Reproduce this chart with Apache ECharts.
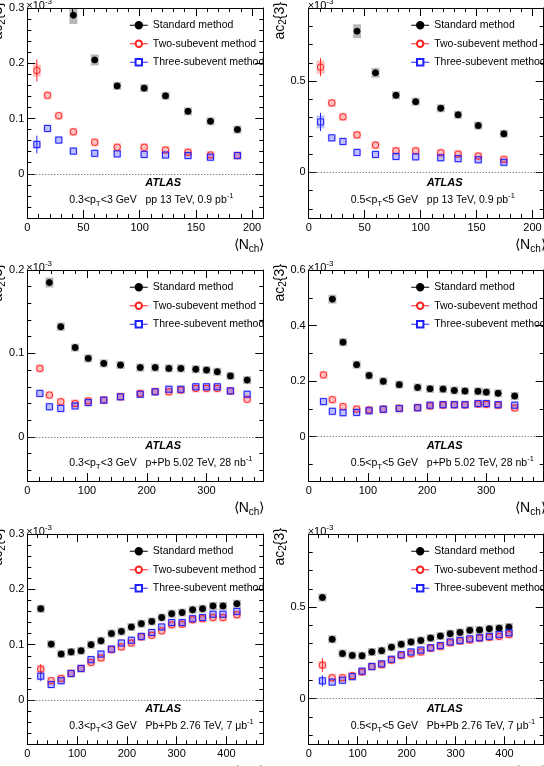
<!DOCTYPE html>
<html lang="en">
<head>
<meta charset="UTF-8">
<title>ac2{3} vs Nch</title>
<script src="https://cdn.jsdelivr.net/npm/echarts@6/dist/echarts.min.js"></script>
<style>
html,body{margin:0;padding:0;background:#fff;}
#wrap{position:relative;width:544px;height:766px;overflow:hidden;}
.layer{position:absolute;left:0;top:0;width:544px;height:766px;}
</style>
</head>
<body>
<div id="wrap"></div>
<script type="text/javascript">
// ---- pp 13 TeV, 0.3<pT<3 GeV
var ppLoNch      = [8.5, 18, 28, 41, 60, 80, 104, 123, 143, 163, 187];
var ppLoStd      = [null, null, null, 0.287, 0.206, 0.159, 0.155, 0.141, 0.113, 0.095, 0.080];
var ppLoStdSys   = [0, 0, 0, 0.016, 0.010, 0.006, 0.006, 0.005, 0.004, 0.004, 0.003];
var ppLoTwo      = [0.187, 0.142, 0.105, 0.076, 0.057, 0.048, 0.048, 0.043, 0.039, 0.034, 0.033];
var ppLoTwoErr   = [0.020, 0.006, 0.004, 0.002, 0.001, 0.001, 0.001, 0.001, 0.001, 0.001, 0.001];
var ppLoTwoSys   = [0.011, 0.007, 0.005, 0.004, 0.003, 0.003, 0.003, 0.003, 0.003, 0.003, 0.003];
var ppLoThree    = [0.053, 0.082, 0.061, 0.041, 0.037, 0.036, 0.035, 0.034, 0.033, 0.030, 0.033];
var ppLoThreeErr = [0.016, 0.006, 0.003, 0.002, 0.001, 0.001, 0.001, 0.001, 0.001, 0.001, 0.001];
var ppLoThreeSys = [0.008, 0.007, 0.005, 0.004, 0.003, 0.003, 0.003, 0.003, 0.003, 0.003, 0.003];

// ---- pp 13 TeV, 0.5<pT<5 GeV
var ppHiNch      = [10.6, 20.6, 30.6, 43.2, 59.7, 78, 95.6, 118, 133.5, 151.5, 174.4];
var ppHiStd      = [null, null, null, 0.773, 0.545, 0.422, 0.387, 0.351, 0.315, 0.256, 0.211];
var ppHiStdSys   = [0, 0, 0, 0.038, 0.027, 0.018, 0.015, 0.013, 0.012, 0.010, 0.010];
var ppHiTwo      = [0.576, 0.380, 0.304, 0.205, 0.149, 0.118, 0.118, 0.107, 0.100, 0.089, 0.071];
var ppHiTwoErr   = [0.050, 0.012, 0.008, 0.005, 0.004, 0.003, 0.003, 0.003, 0.003, 0.003, 0.003];
var ppHiTwoSys   = [0.036, 0.020, 0.020, 0.015, 0.012, 0.010, 0.010, 0.010, 0.010, 0.010, 0.010];
var ppHiThree    = [0.276, 0.189, 0.169, 0.109, 0.098, 0.087, 0.085, 0.080, 0.075, 0.069, 0.055];
var ppHiThreeErr = [0.050, 0.012, 0.008, 0.005, 0.004, 0.003, 0.003, 0.003, 0.003, 0.003, 0.003];
var ppHiThreeSys = [0.035, 0.020, 0.020, 0.015, 0.012, 0.010, 0.010, 0.010, 0.010, 0.010, 0.010];

// ---- p+Pb 5.02 TeV, 0.3<pT<3 GeV
var pPbLoNch      = [21, 37, 56, 80, 102, 128, 156, 189, 214, 237, 257, 282, 300, 318, 340, 368];
var pPbLoStd      = [null, 0.185, 0.132, 0.107, 0.094, 0.088, 0.086, 0.083, 0.083, 0.082, 0.082, 0.081, 0.080, 0.078, 0.073, 0.068];
var pPbLoStdSys   = [0, 0.006, 0.005, 0.003, 0.003, 0.002, 0.002, 0.002, 0.002, 0.002, 0.002, 0.002, 0.002, 0.002, 0.002, 0.002];
var pPbLoTwo      = [0.082, 0.050, 0.042, 0.040, 0.043, 0.044, 0.048, 0.052, 0.054, 0.054, 0.056, 0.058, 0.058, 0.058, 0.055, 0.045];
var pPbLoTwoErr   = [0.002, 0.001, 0.001, 0.001, 0.001, 0.001, 0.001, 0.001, 0.001, 0.001, 0.001, 0.001, 0.001, 0.001, 0.002, 0.005];
var pPbLoTwoSys   = [0.003, 0.002, 0.002, 0.002, 0.002, 0.002, 0.002, 0.002, 0.002, 0.002, 0.002, 0.002, 0.002, 0.002, 0.002, 0.003];
var pPbLoThree    = [0.052, 0.036, 0.034, 0.037, 0.041, 0.044, 0.048, 0.051, 0.054, 0.057, 0.057, 0.060, 0.060, 0.060, 0.055, 0.051];
var pPbLoThreeErr = [0.002, 0.001, 0.001, 0.001, 0.001, 0.001, 0.001, 0.001, 0.001, 0.001, 0.001, 0.001, 0.001, 0.001, 0.002, 0.005];
var pPbLoThreeSys = [0.003, 0.002, 0.002, 0.002, 0.002, 0.002, 0.002, 0.002, 0.002, 0.002, 0.002, 0.002, 0.002, 0.002, 0.002, 0.003];

// ---- p+Pb 5.02 TeV, 0.5<pT<5 GeV
var pPbHiNch      = [25, 40, 58, 81, 102, 126, 153, 184, 205, 227, 246, 264, 286, 300, 320, 348];
var pPbHiStd      = [null, 0.495, 0.340, 0.259, 0.220, 0.199, 0.187, 0.177, 0.172, 0.171, 0.166, 0.164, 0.163, 0.160, 0.156, 0.146];
var pPbHiStdSys   = [0, 0.016, 0.012, 0.008, 0.006, 0.005, 0.005, 0.005, 0.005, 0.005, 0.005, 0.005, 0.005, 0.005, 0.005, 0.005];
var pPbHiTwo      = [0.222, 0.133, 0.108, 0.099, 0.096, 0.099, 0.102, 0.104, 0.110, 0.113, 0.114, 0.114, 0.117, 0.116, 0.113, 0.103];
var pPbHiTwoErr   = [0.004, 0.003, 0.002, 0.002, 0.002, 0.002, 0.002, 0.002, 0.002, 0.002, 0.002, 0.002, 0.002, 0.002, 0.003, 0.005];
var pPbHiTwoSys   = [0.010, 0.006, 0.005, 0.005, 0.005, 0.005, 0.005, 0.005, 0.005, 0.005, 0.005, 0.005, 0.005, 0.005, 0.005, 0.006];
var pPbHiThree    = [0.126, 0.091, 0.086, 0.087, 0.093, 0.098, 0.101, 0.104, 0.113, 0.115, 0.115, 0.115, 0.119, 0.119, 0.115, 0.113];
var pPbHiThreeErr = [0.004, 0.003, 0.002, 0.002, 0.002, 0.002, 0.002, 0.002, 0.002, 0.002, 0.002, 0.002, 0.002, 0.002, 0.003, 0.005];
var pPbHiThreeSys = [0.010, 0.006, 0.005, 0.005, 0.005, 0.005, 0.005, 0.005, 0.005, 0.005, 0.005, 0.005, 0.005, 0.005, 0.005, 0.006];

// ---- Pb+Pb 2.76 TeV, 0.3<pT<3 GeV
var PbPbLoNch      = [27, 48, 68, 88, 108, 128, 148, 169, 189, 209, 229, 250, 270, 290, 311, 332, 352, 373, 393, 421];
var PbPbLoStd      = [0.165, 0.101, 0.083, 0.087, 0.089, 0.100, 0.107, 0.120, 0.124, 0.132, 0.138, 0.142, 0.149, 0.156, 0.158, 0.163, 0.165, 0.170, 0.170, 0.174];
var PbPbLoStdSys   = [0.004, 0.003, 0.003, 0.003, 0.003, 0.003, 0.003, 0.003, 0.003, 0.003, 0.003, 0.003, 0.003, 0.003, 0.003, 0.003, 0.003, 0.003, 0.003, 0.004];
var PbPbLoTwo      = [0.056, 0.035, 0.039, 0.048, 0.057, 0.068, 0.076, 0.091, 0.096, 0.103, 0.114, 0.117, 0.125, 0.136, 0.137, 0.145, 0.147, 0.149, 0.149, 0.154];
var PbPbLoTwoErr   = [0.009, 0.003, 0.002, 0.002, 0.002, 0.002, 0.002, 0.002, 0.002, 0.002, 0.002, 0.002, 0.002, 0.002, 0.002, 0.002, 0.002, 0.002, 0.002, 0.002];
var PbPbLoTwoSys   = [0.005, 0.003, 0.003, 0.003, 0.003, 0.003, 0.003, 0.003, 0.003, 0.003, 0.003, 0.003, 0.003, 0.003, 0.003, 0.003, 0.003, 0.003, 0.003, 0.003];
var PbPbLoThree    = [0.043, 0.028, 0.035, 0.048, 0.057, 0.073, 0.083, 0.092, 0.103, 0.108, 0.115, 0.122, 0.132, 0.140, 0.140, 0.147, 0.149, 0.155, 0.155, 0.160];
var PbPbLoThreeErr = [0.009, 0.003, 0.002, 0.002, 0.002, 0.002, 0.002, 0.002, 0.002, 0.002, 0.002, 0.002, 0.002, 0.002, 0.002, 0.002, 0.002, 0.002, 0.002, 0.002];
var PbPbLoThreeSys = [0.005, 0.003, 0.003, 0.003, 0.003, 0.003, 0.003, 0.003, 0.003, 0.003, 0.003, 0.003, 0.003, 0.003, 0.003, 0.003, 0.003, 0.003, 0.003, 0.003];

// ---- Pb+Pb 2.76 TeV, 0.5<pT<5 GeV
var PbPbHiNch      = [28, 48, 69, 89, 109, 129, 149, 169, 189, 209, 229, 249, 269, 289, 309, 329, 349, 369, 389, 409];
var PbPbHiStd      = [0.553, 0.324, 0.246, 0.236, 0.234, 0.255, 0.262, 0.281, 0.297, 0.310, 0.318, 0.331, 0.342, 0.355, 0.362, 0.373, 0.375, 0.382, 0.385, 0.391];
var PbPbHiStdSys   = [0.020, 0.012, 0.010, 0.010, 0.010, 0.010, 0.010, 0.010, 0.010, 0.010, 0.010, 0.010, 0.010, 0.010, 0.010, 0.010, 0.010, 0.010, 0.010, 0.010];
var PbPbHiTwo      = [0.183, 0.114, 0.114, 0.125, 0.145, 0.175, 0.185, 0.210, 0.235, 0.245, 0.255, 0.275, 0.285, 0.305, 0.315, 0.320, 0.330, 0.335, 0.340, 0.350];
var PbPbHiTwoErr   = [0.038, 0.010, 0.006, 0.005, 0.005, 0.005, 0.005, 0.005, 0.005, 0.005, 0.005, 0.005, 0.005, 0.005, 0.005, 0.005, 0.005, 0.005, 0.005, 0.005];
var PbPbHiTwoSys   = [0.015, 0.010, 0.010, 0.010, 0.010, 0.010, 0.010, 0.010, 0.010, 0.010, 0.010, 0.010, 0.010, 0.010, 0.010, 0.010, 0.010, 0.010, 0.010, 0.010];
var PbPbHiThree    = [0.097, 0.090, 0.100, 0.120, 0.150, 0.175, 0.190, 0.215, 0.240, 0.255, 0.265, 0.278, 0.290, 0.310, 0.318, 0.327, 0.333, 0.340, 0.350, 0.360];
var PbPbHiThreeErr = [0.030, 0.010, 0.006, 0.005, 0.005, 0.005, 0.005, 0.005, 0.005, 0.005, 0.005, 0.005, 0.005, 0.005, 0.005, 0.005, 0.005, 0.005, 0.005, 0.005];
var PbPbHiThreeSys = [0.015, 0.010, 0.010, 0.010, 0.010, 0.010, 0.010, 0.010, 0.010, 0.010, 0.010, 0.010, 0.010, 0.010, 0.010, 0.010, 0.010, 0.010, 0.010, 0.010];

var FONT = '"Liberation Sans", Arial, Helvetica, sans-serif';
var RED = '#ff2020';
var BLUE = '#2020ff';
var NAMES = ['Standard method', 'Two-subevent method', 'Three-subevent method'];

// panel settings (axis ranges, labels)
var panels = [
    {nch: ppLoNch, std: ppLoStd, stdSys: ppLoStdSys, two: ppLoTwo, twoErr: ppLoTwoErr, twoSys: ppLoTwoSys,
     three: ppLoThree, threeErr: ppLoThreeErr, threeSys: ppLoThreeSys,
     xMax: 210, xStep: 50, yMin: -0.08, yMax: 0.3, yStep: 0.1, ySplit: 4, yMinor: 5,
     text: '0.3<p{s|T}<3 GeV   pp 13 TeV, 0.9 pb{u|-1}'},
    {nch: ppHiNch, std: ppHiStd, stdSys: ppHiStdSys, two: ppHiTwo, twoErr: ppHiTwoErr, twoSys: ppHiTwoSys,
     three: ppHiThree, threeErr: ppHiThreeErr, threeSys: ppHiThreeSys,
     xMax: 210, xStep: 50, yMin: -0.25, yMax: 0.9, yStep: 0.5, ySplit: 2, yMinor: 5,
     text: '0.5<p{s|T}<5 GeV   pp 13 TeV, 0.9 pb{u|-1}'},
    {nch: pPbLoNch, std: pPbLoStd, stdSys: pPbLoStdSys, two: pPbLoTwo, twoErr: pPbLoTwoErr, twoSys: pPbLoTwoSys,
     three: pPbLoThree, threeErr: pPbLoThreeErr, threeSys: pPbLoThreeSys,
     xMax: 395, xStep: 100, yMin: -0.053, yMax: 0.2, yStep: 0.1, ySplit: 2, yMinor: 5,
     text: '0.3<p{s|T}<3 GeV   p+Pb 5.02 TeV, 28 nb{u|-1}'},
    {nch: pPbHiNch, std: pPbHiStd, stdSys: pPbHiStdSys, two: pPbHiTwo, twoErr: pPbHiTwoErr, twoSys: pPbHiTwoSys,
     three: pPbHiThree, threeErr: pPbHiThreeErr, threeSys: pPbHiThreeSys,
     xMax: 397, xStep: 100, yMin: -0.16, yMax: 0.6, yStep: 0.2, ySplit: 4, yMinor: 2,
     text: '0.5<p{s|T}<5 GeV   p+Pb 5.02 TeV, 28 nb{u|-1}'},
    {nch: PbPbLoNch, std: PbPbLoStd, stdSys: PbPbLoStdSys, two: PbPbLoTwo, twoErr: PbPbLoTwoErr, twoSys: PbPbLoTwoSys,
     three: PbPbLoThree, threeErr: PbPbLoThreeErr, threeSys: PbPbLoThreeSys,
     xMax: 474, xStep: 100, yMin: -0.08, yMax: 0.3, yStep: 0.1, ySplit: 4, yMinor: 5,
     text: '0.3<p{s|T}<3 GeV   Pb+Pb 2.76 TeV, 7 \u03bcb{u|-1}'},
    {nch: PbPbHiNch, std: PbPbHiStd, stdSys: PbPbHiStdSys, two: PbPbHiTwo, twoErr: PbPbHiTwoErr, twoSys: PbPbHiTwoSys,
     three: PbPbHiThree, threeErr: PbPbHiThreeErr, threeSys: PbPbHiThreeSys,
     xMax: 480, xStep: 100, yMin: -0.25, yMax: 0.9, yStep: 0.5, ySplit: 2, yMinor: 5,
     text: '0.5<p{s|T}<5 GeV   Pb+Pb 2.76 TeV, 7 \u03bcb{u|-1}'}
];

// frame geometry (right column kept inside the canvas)
var colLeft = [27.3, 308.7];
var colW = [236, 235];
var rowTop = [8, 270, 534];
var rowH = [210, 211, 210.3];

function stepFormatter(step) {
    return function (v) {
        var k = v / step;
        if (Math.abs(k - Math.round(k)) > 1e-6) return '';
        return String(Math.round(k * step * 1000) / 1000);
    };
}

function points(xs, ys, extra) {
    var out = [];
    for (var i = 0; i < xs.length; i++) {
        if (ys[i] == null) continue;
        out.push(extra ? [xs[i], ys[i], extra[i]] : [xs[i], ys[i]]);
    }
    return out;
}

// systematic boxes
function boxSeries(data, fill) {
    return {
        type: 'custom', data: data, clip: true, silent: true, z: 2,
        encode: {x: 0, y: 1},
        renderItem: function (params, api) {
            var c = api.coord([api.value(0), api.value(1)]);
            var h = Math.max(api.size([0, api.value(2)])[1], 4);
            return {type: 'rect', shape: {x: c[0] - 4, y: c[1] - h, width: 8, height: 2 * h}, style: {fill: fill}};
        }
    };
}

// statistical error bars (hidden when shorter than the marker)
function errSeries(data, color) {
    return {
        type: 'custom', data: data, clip: true, silent: true, z: 3,
        encode: {x: 0, y: 1},
        renderItem: function (params, api) {
            var c = api.coord([api.value(0), api.value(1)]);
            var h = api.size([0, api.value(2)])[1];
            if (h < 4.5) h = 0;
            return {type: 'line', shape: {x1: c[0], y1: c[1] - h, x2: c[0], y2: c[1] + h},
                    style: {stroke: color, lineWidth: h > 0 ? 1 : 0}};
        }
    };
}

function markerSeries(name, data, symbol, size, color, fill, zeroLine) {
    var s = {
        name: name, type: 'line', data: data,
        symbol: symbol, symbolSize: size, showSymbol: true, showAllSymbol: true, silent: true, z: 4,
        lineStyle: {color: color, width: 1, opacity: 0},
        itemStyle: {color: fill, borderColor: color, borderWidth: 1}
    };
    if (zeroLine) {
        s.markLine = {
            silent: true, symbol: ['none', 'none'], label: {show: false},
            lineStyle: {color: '#555', type: [1, 2], width: 1},
            data: [{yAxis: 0}]
        };
    }
    return s;
}

function geometry(gi) {
    var col = gi % 2, row = Math.floor(gi / 2);
    return {L: colLeft[col], T: rowTop[row], H: rowH[row], W: colW[col]};
}

// layer 1: frame, ticks, labels, boxes, error bars, two marker sets
function frameOption(p, gi) {
    var g = geometry(gi);
    var xAxes = [], yAxes = [];
    ['bottom', 'top'].forEach(function (pos) {
        xAxes.push({
            gridIndex: 0, type: 'value', position: pos, min: 0, max: p.xMax, interval: p.xStep,
            axisLine: {show: true, onZero: false, lineStyle: {color: '#000', width: 1}},
            axisTick: {show: true, inside: true, length: 8, lineStyle: {color: '#000', width: 1}},
            minorTick: {show: true, splitNumber: 5, length: 4, lineStyle: {color: '#000', width: 1}},
            axisLabel: {show: pos === 'bottom', color: '#000', fontSize: 11, fontFamily: FONT, margin: 4,
                        formatter: stepFormatter(p.xStep)},
            splitLine: {show: false}
        });
    });
    ['left', 'right'].forEach(function (pos) {
        yAxes.push({
            gridIndex: 0, type: 'value', position: pos, min: p.yMin, max: p.yMax, splitNumber: p.ySplit,
            axisLine: {show: true, onZero: false, lineStyle: {color: '#000', width: 1}},
            axisTick: {show: true, inside: true, length: 8, lineStyle: {color: '#000', width: 1}},
            minorTick: {show: true, splitNumber: p.yMinor, length: 4, lineStyle: {color: '#000', width: 1}},
            axisLabel: {show: pos === 'left', color: '#000', fontSize: 11, fontFamily: FONT, margin: 3,
                        formatter: stepFormatter(p.yStep)},
            splitLine: {show: false}
        });
    });
    return {
        animation: false,
        grid: [{left: g.L, top: g.T, width: g.W, height: g.H, outerBoundsMode: 'none'}],
        xAxis: xAxes,
        yAxis: yAxes,
        series: [
            boxSeries(points(p.nch, p.std, p.stdSys), 'rgba(0,0,0,0.28)'),
            boxSeries(points(p.nch, p.two, p.twoSys), 'rgba(255,0,0,0.25)'),
            boxSeries(points(p.nch, p.three, p.threeSys), 'rgba(0,0,255,0.25)'),
            errSeries(points(p.nch, p.two, p.twoErr), RED),
            errSeries(points(p.nch, p.three, p.threeErr), BLUE),
            markerSeries(NAMES[0], points(p.nch, p.std), 'circle', 6, '#000', '#000', true),
            markerSeries(NAMES[1], points(p.nch, p.two), 'circle', 6.5, RED, 'rgba(255,255,255,0)', false)
        ],
        graphic: [
            {type: 'text', x: g.L - 29, y: g.T - 6, rotation: Math.PI / 2, silent: true,
             style: {text: 'ac{s|2}{3}', fontSize: 14, fontFamily: FONT, fill: '#000', align: 'right', verticalAlign: 'middle',
                     rich: {s: {fontSize: 10, fontFamily: FONT, padding: [7, 0, 0, 0]}}}},
            {type: 'text', x: g.L + 118, y: g.T + g.H - 35, silent: true,
             style: {text: 'ATLAS', fontSize: 11, fontWeight: 'bold', fontStyle: 'italic', fontFamily: FONT, fill: '#000',
                     align: 'left', verticalAlign: 'middle'}},
            {type: 'text', x: g.L + 42, y: g.T + g.H - 18, silent: true,
             style: {text: p.text, fontSize: 10.5, fontFamily: FONT, fill: '#000', align: 'left', verticalAlign: 'middle',
                     rich: {s: {fontSize: 8, fontFamily: FONT, padding: [7, 0, 0, 0]},
                            u: {fontSize: 7.5, fontFamily: FONT, padding: [0, 0, 8, 0]}}}}
        ]
    };
}

// layer 2: three-subevent markers, legend, exponent and x title (same scales, axes hidden)
function overlayOption(p, gi) {
    var g = geometry(gi);
    return {
        animation: false,
        grid: [{left: g.L, top: g.T, width: g.W, height: g.H, outerBoundsMode: 'none'}],
        xAxis: [{gridIndex: 0, type: 'value', min: 0, max: p.xMax, show: false}],
        yAxis: [{gridIndex: 0, type: 'value', min: p.yMin, max: p.yMax, show: false}],
        series: [
            markerSeries(NAMES[0], [], 'circle', 6, '#000', '#000', false),
            markerSeries(NAMES[1], [], 'circle', 6.5, RED, 'rgba(255,255,255,0)', false),
            markerSeries(NAMES[2], points(p.nch, p.three), 'rect', 6, BLUE, 'rgba(255,255,255,0)', false)
        ],
        legend: [{
            left: g.L + 102, top: g.T + 11, orient: 'vertical', padding: 0, itemGap: 6,
            itemWidth: 18, itemHeight: 8, selectedMode: false,
            textStyle: {fontSize: 10.5, fontFamily: FONT, color: '#000', lineHeight: 12.5},
            lineStyle: {opacity: 1, width: 1},
            data: [{name: NAMES[0]},
                   {name: NAMES[1], itemStyle: {color: '#fff'}},
                   {name: NAMES[2], itemStyle: {color: '#fff'}}]
        }],
        graphic: [
            {type: 'text', x: g.L - 1, y: g.T + 6, silent: true,
             style: {text: '\u00d710{u|-3}', fontSize: 11, fontFamily: FONT, fill: '#000', align: 'left', verticalAlign: 'bottom',
                     rich: {u: {fontSize: 8, fontFamily: FONT, padding: [0, 0, 8, 0]}}}},
            {type: 'text', x: g.L + 237, y: g.T + g.H + 19, silent: true,
             style: {text: '\u27e8N{s|ch}\u27e9', fontSize: 14, fontFamily: FONT, fill: '#000', align: 'right', verticalAlign: 'top',
                     rich: {s: {fontSize: 10, fontFamily: FONT, padding: [7, 0, 0, 0]}}}}
        ]
    };
}

var wrap = document.getElementById('wrap');
function addLayer(option) {
    var div = document.createElement('div');
    div.className = 'layer';
    wrap.appendChild(div);
    echarts.init(div).setOption(option);
}
panels.forEach(function (p, gi) {
    addLayer(frameOption(p, gi));
    addLayer(overlayOption(p, gi));
});
</script>
</body>
</html>
